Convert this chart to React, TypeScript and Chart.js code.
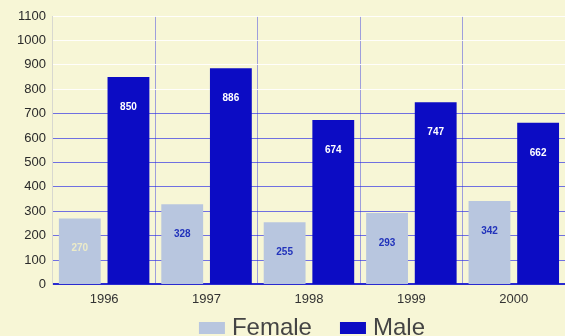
import React, { useEffect, useRef } from "react";
import { Chart, registerables } from "chart.js";

Chart.register(...registerables);

const years = ["1996", "1997", "1998", "1999", "2000"];
const female = [270, 328, 255, 293, 342];
const male = [850, 886, 674, 747, 662];
const femaleLabelColors = ["#ecebc8", "#2233bb", "#2233bb", "#2233bb", "#2233bb"];

const PAPER = "#f7f6d6";
const FEMALE_FILL = "#b8c6df";
const MALE_FILL = "#0c0cc4";
const FONT = "'Liberation Sans', Arial, sans-serif";

// Value printed inside each bar, a little below its top.
const valueLabels = {
  id: "valueLabels",
  afterDatasetsDraw(chart: Chart) {
    const ctx = chart.ctx;
    ctx.save();
    ctx.font = `bold 10px ${FONT}`;
    ctx.textAlign = "center";
    ctx.textBaseline = "middle";
    chart.data.datasets.forEach((ds, di) => {
      const meta = chart.getDatasetMeta(di);
      meta.data.forEach((bar: any, i: number) => {
        const v = ds.data[i] as number;
        ctx.fillStyle = di === 0 ? femaleLabelColors[i] : "#ffffff";
        ctx.fillText(String(v), bar.x, bar.y + 30);
      });
    });
    ctx.restore();
  },
};

// Large legend row under the axis, centred on the plot area.
const bottomLegend = {
  id: "bottomLegend",
  afterDraw(chart: Chart) {
    const ctx = chart.ctx;
    const area = chart.chartArea;
    const boxW = 26;
    const boxH = 12;
    const gap = 7;
    const spacing = 28;
    const y = 328;
    ctx.save();
    ctx.font = `24px ${FONT}`;
    ctx.textBaseline = "middle";
    const items = chart.data.datasets.map((ds) => ({
      text: String(ds.label),
      color: ds.backgroundColor as string,
      w: ctx.measureText(String(ds.label)).width,
    }));
    const total =
      items.reduce((s, it) => s + boxW + gap + it.w, 0) + spacing * (items.length - 1);
    let x = (area.left + area.right) / 2 - total / 2 + 3;
    items.forEach((it) => {
      ctx.fillStyle = it.color;
      ctx.fillRect(x, y - boxH / 2, boxW, boxH);
      x += boxW + gap;
      ctx.fillStyle = "#444444";
      ctx.fillText(it.text, x, y);
      x += it.w + spacing;
    });
    ctx.restore();
  },
};

export default function App() {
  const ref = useRef<HTMLCanvasElement>(null);

  useEffect(() => {
    if (!ref.current) return;
    const chart = new Chart(ref.current, {
      type: "bar",
      data: {
        labels: years,
        datasets: [
          {
            label: "Female",
            data: female,
            backgroundColor: FEMALE_FILL,
            borderWidth: 0,
            barPercentage: 0.86,
            categoryPercentage: 0.95,
          },
          {
            label: "Male",
            data: male,
            backgroundColor: MALE_FILL,
            borderWidth: 0,
            barPercentage: 0.86,
            categoryPercentage: 0.95,
          },
        ],
      },
      options: {
        animation: false,
        responsive: false,
        maintainAspectRatio: false,
        layout: { padding: { left: 10, right: 0, top: 16, bottom: 22 } },
        plugins: {
          tooltip: { enabled: false },
          title: { display: false },
          legend: { display: false },
        },
        scales: {
          x: {
            grid: {
              offset: true,
              color: "rgba(70,70,225,0.5)",
              drawTicks: false,
            },
            border: { color: "#2a2ad0", width: 2 },
            ticks: {
              color: "#333333",
              padding: 7,
              font: { family: FONT, size: 13 },
            },
          },
          y: {
            min: 0,
            max: 1100,
            ticks: {
              stepSize: 100,
              color: "#2a2a2a",
              padding: 7,
              font: { family: FONT, size: 13 },
              callback: (v: any) => String(v),
            },
            grid: {
              drawTicks: false,
              color: (c: any) =>
                c.tick && c.tick.value <= 700 && c.tick.value > 0
                  ? "rgba(40,40,230,0.65)"
                  : "rgba(255,255,255,0.9)",
            },
            border: { color: "#d8d8d0", width: 1 },
          },
        },
      },
      plugins: [valueLabels, bottomLegend],
    });
    return () => chart.destroy();
  }, []);

  return (
    <div
      style={{
        position: "fixed",
        left: 0,
        top: 0,
        width: 565,
        height: 336,
        overflow: "hidden",
        background: PAPER,
      }}
    >
      <canvas ref={ref} width={565} height={336} style={{ display: "block" }} />
    </div>
  );
}
